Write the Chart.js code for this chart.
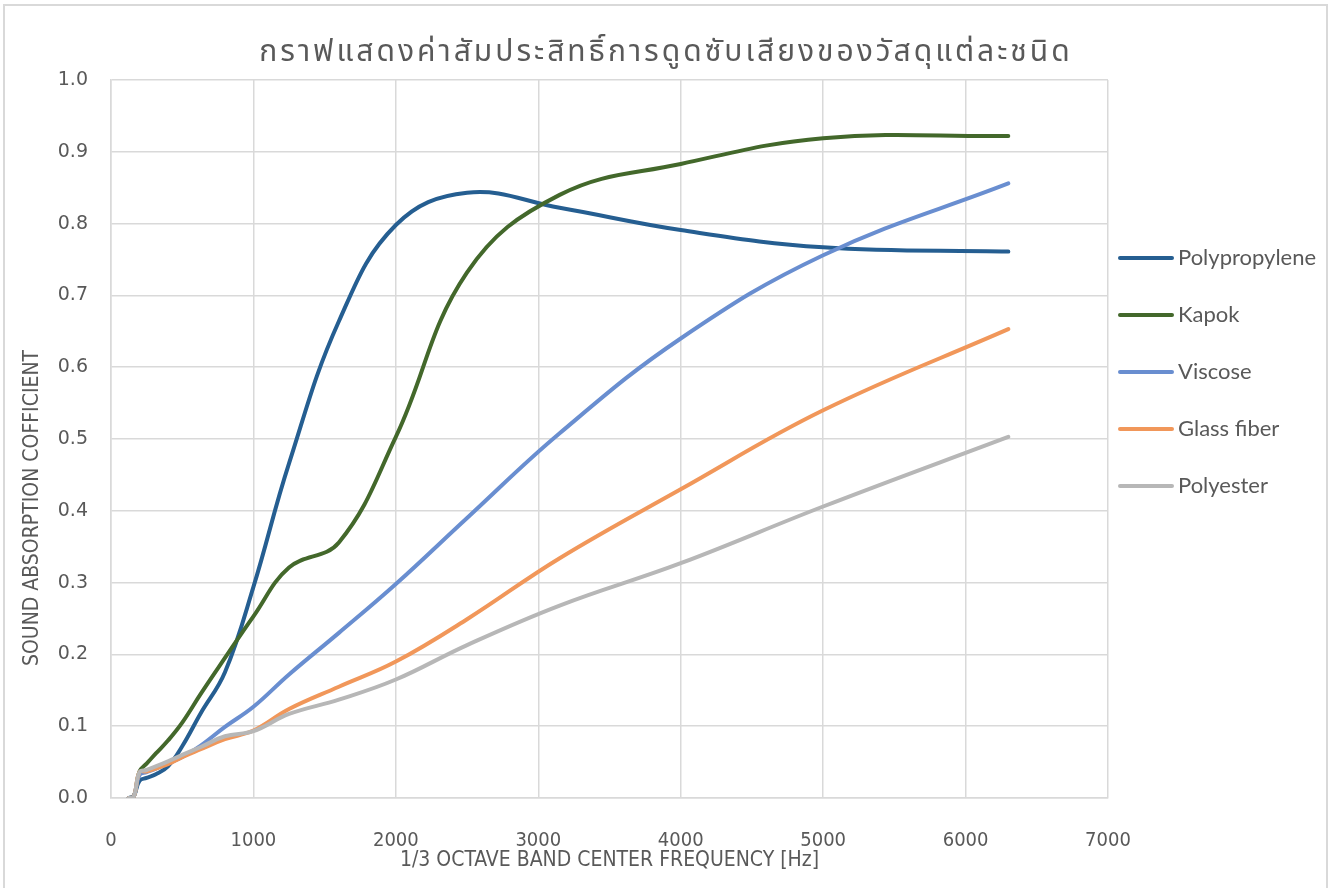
<!DOCTYPE html>
<html>
<head>
<meta charset="utf-8">
<script src="https://cdn.jsdelivr.net/npm/chart.js@4.4.1/dist/chart.umd.min.js"></script>
<style>
    html, body { margin: 0; padding: 0; background: #fff; }
    #frame { position: absolute; left: 3px; top: 4px; width: 1321px; height: 900px; border: 2px solid #d9d9d9; }
    #wrap { position: absolute; left: 0; top: 0; width: 1331px; height: 888px; }
</style>
</head>
<body>
<div id="frame"></div>
<div id="wrap"><canvas id="absorptionChart" width="1331" height="888"></canvas></div>
<script>
// 1/3 octave band centre frequencies (Hz)
const frequencies = [125, 160, 200, 250, 315, 400, 500, 630, 800, 1000, 1250, 1600, 2000, 2500, 3150, 4000, 5000, 6300];

// absorption coefficient per material
const polypropylene = [0, 0.003, 0.024, 0.028, 0.033, 0.044, 0.072, 0.118, 0.175, 0.294, 0.466, 0.664, 0.798, 0.843, 0.822, 0.791, 0.767, 0.761];
const kapok         = [0, 0.002, 0.037, 0.048, 0.062, 0.080, 0.105, 0.145, 0.195, 0.253, 0.321, 0.356, 0.503, 0.732, 0.840, 0.883, 0.919, 0.922];
const viscose       = [0, 0.002, 0.032, 0.036, 0.041, 0.048, 0.057, 0.073, 0.099, 0.127, 0.172, 0.230, 0.298, 0.390, 0.508, 0.640, 0.756, 0.856];
const glassFiber    = [0, 0.002, 0.036, 0.037, 0.041, 0.047, 0.057, 0.068, 0.082, 0.094, 0.124, 0.155, 0.190, 0.249, 0.334, 0.430, 0.540, 0.653];
const polyester     = [0, 0.002, 0.036, 0.039, 0.044, 0.051, 0.060, 0.071, 0.086, 0.093, 0.117, 0.137, 0.165, 0.213, 0.268, 0.327, 0.406, 0.503];

const seriesNames = ['Polypropylene', 'Kapok', 'Viscose', 'Glass fiber', 'Polyester'];
const seriesValues = [polypropylene, kapok, viscose, glassFiber, polyester];
const seriesColors = ['#255e91', '#43682b', '#698ed0', '#f1975a', '#b7b7b7'];

const chartTitle = 'กราฟแสดงค่าสัมประสิทธิ์การดูดซับเสียงของวัสดุแต่ละชนิด';
const xTitle = '1/3 OCTAVE BAND CENTER FREQUENCY [Hz]';
const yTitle = 'SOUND ABSORPTION COFFICIENT';

const grey = '#595959';
const narrowFont = '"Liberation Sans Narrow", "DejaVu Sans Condensed", "Roboto", sans-serif';

// title, legend and rotated y title drawn by hand so they sit where Excel puts them
const sideText = {
    id: 'sideText',
    afterDraw(chart) {
        const ctx = chart.ctx;

        ctx.save();
        ctx.fillStyle = grey;
        ctx.font = '30px "Noto Sans Thai", "Noto Sans", Tahoma, sans-serif';
        ctx.letterSpacing = '3px';
        ctx.textAlign = 'center';
        ctx.textBaseline = 'middle';
        ctx.fillText(chartTitle, 666, 55);
        ctx.restore();

        ctx.save();
        ctx.fillStyle = grey;
        ctx.font = '21px ' + narrowFont;
        ctx.textAlign = 'center';
        ctx.textBaseline = 'middle';
        ctx.translate(33, 508);
        ctx.rotate(-Math.PI / 2);
        ctx.fillText(yTitle, 0, 0);
        ctx.restore();

        ctx.save();
        ctx.font = '22px Lato, "Open Sans", sans-serif';
        ctx.textAlign = 'left';
        ctx.textBaseline = 'middle';
        chart.data.datasets.forEach((ds, i) => {
            const y = 258 + i * 57;
            ctx.strokeStyle = ds.borderColor;
            ctx.lineWidth = 4;
            ctx.lineCap = 'round';
            ctx.beginPath();
            ctx.moveTo(1120, y);
            ctx.lineTo(1172, y);
            ctx.stroke();
            ctx.fillStyle = grey;
            ctx.fillText(ds.label, 1178, y);
        });
        ctx.restore();
    }
};

const datasets = seriesNames.map((name, i) => ({
    label: name,
    data: frequencies.map((f, j) => ({ x: f, y: seriesValues[i][j] })),
    borderColor: seriesColors[i],
    backgroundColor: seriesColors[i],
    borderWidth: 4,
    borderCapStyle: 'round',
    pointRadius: 0,
    showLine: true,
    tension: 0.4,
    order: seriesNames.length - i
}));

new Chart(document.getElementById('absorptionChart'), {
    type: 'scatter',
    data: { datasets },
    options: {
        responsive: false,
        animation: false,
        layout: { padding: { left: 0, right: 223, top: 80, bottom: 0 } },
        plugins: {
            legend: { display: false },
            tooltip: { enabled: false },
            title: { display: false }
        },
        scales: {
            x: {
                type: 'linear',
                min: 0,
                max: 7000,
                ticks: { stepSize: 1000, color: grey, padding: 31, font: { family: narrowFont, size: 20 },
                         callback: v => String(v) },
                grid: { color: '#d9d9d9', lineWidth: 1.5, drawTicks: false },
                border: { color: '#d9d9d9', width: 1.5 },
                title: { display: true, text: xTitle, color: grey, font: { family: narrowFont, size: 21 }, padding: { top: 0, bottom: 15 } },
                afterFit(scale) { scale.height = 90; }
            },
            y: {
                min: 0,
                max: 1,
                ticks: { stepSize: 0.1, color: grey, padding: 23, font: { family: '"DejaVu Sans", sans-serif', size: 19 },
                         callback: v => v.toFixed(1) },
                grid: { color: '#d9d9d9', lineWidth: 1.5, drawTicks: false },
                border: { color: '#d9d9d9', width: 1.5 },
                afterFit(scale) { scale.width = 111; }
            }
        }
    },
    plugins: [sideText]
});
</script>
</body>
</html>
